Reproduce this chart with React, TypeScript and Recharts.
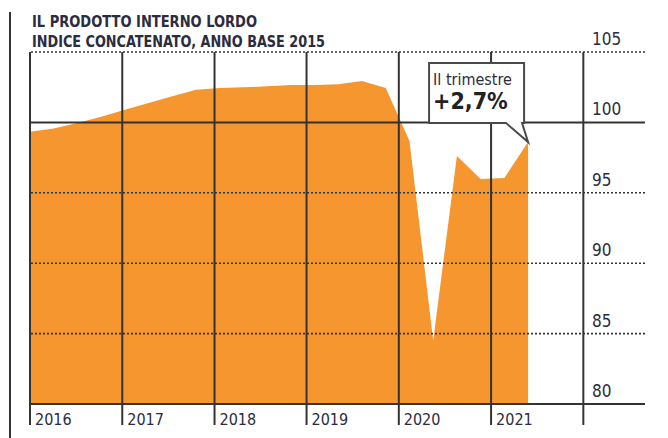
import React from "react";
import { AreaChart, Area, XAxis, YAxis, ReferenceLine, ReferenceDot } from "recharts";

// quarterly GDP index (2015 = 100), 2016 Q1 .. 2021 Q2
const quarters = [
  "I-16", "II-16", "III-16", "IV-16",
  "I-17", "II-17", "III-17", "IV-17",
  "I-18", "II-18", "III-18", "IV-18",
  "I-19", "II-19", "III-19", "IV-19",
  "I-20", "II-20", "III-20", "IV-20",
  "I-21", "II-21",
];
const gdpIndex = [
  99.34, 99.57, 99.96, 100.4,
  100.9, 101.37, 101.85, 102.32,
  102.44, 102.49, 102.56, 102.65,
  102.66, 102.71, 102.94, 102.44,
  98.68, 84.5, 97.61, 95.98,
  96.05, 98.6,
];

// year gridlines (in quarter-index units) and their labels
const yearTicks = [0, 3.89, 7.78, 11.66, 15.55, 19.44, 23.33];
const yearLabels = ["2016", "2017", "2018", "2019", "2020", "2021", ""];
const yTicks = [80, 85, 90, 95, 100, 105];
const dottedLevels = [85, 90, 95, 105];

const calloutTitle = "Il trimestre";
const calloutValue = "+2,7%";

const data = quarters.map((q, i) => ({ q, i, v: gdpIndex[i] }));
const last = data[data.length - 1];

const FONT = "'DejaVu Sans Condensed', 'DejaVu Sans', sans-serif";
const INK = "#2b2c40";
const LINE = "#333";

const XTick = ({ x, y, payload }: any) => {
  const idx = yearTicks.indexOf(payload.value);
  const label = idx >= 0 ? yearLabels[idx] : "";
  return (
    <text x={x + 5} y={y} fontSize={16} fill={INK} fontFamily={FONT} style={{ fontStretch: "condensed" }}>
      {label}
    </text>
  );
};

const YTick = ({ y, payload }: any) => (
  <text x={592} y={y - 7} fontSize={17} fill={INK} fontFamily={FONT} style={{ fontStretch: "condensed" }}>
    {payload.value}
  </text>
);

const Callout = ({ cx, cy }: any) => (
  <g>
    <path
      d={`M${cx - 99},${cy - 79} H${cx - 4} V${cy - 19} H${cx - 6} L${cx},${cy} L${cx - 22},${cy - 19} H${cx - 99} Z`}
      fill="#fff"
      stroke="#4a4a4a"
      strokeWidth={2}
    />
    <text x={cx - 95} y={cy - 57} fontSize={16} fill={INK} fontFamily={FONT} style={{ fontStretch: "condensed" }}>
      {calloutTitle}
    </text>
    <text x={cx - 95} y={cy - 33} fontSize={23} fontWeight="bold" fill="#222" fontFamily={FONT} style={{ fontStretch: "condensed" }}>
      {calloutValue}
    </text>
  </g>
);

export default function App() {
  return (
    <div style={{ position: "absolute", left: 0, top: 0, width: 668, height: 438, background: "#fff" }}>
      <svg width={668} height={438} style={{ position: "absolute", left: 0, top: 0 }}>
        <line x1={10} y1={12} x2={10} y2={438} stroke={LINE} strokeWidth={2} />
        <text x={32} y={27} fontSize={16} fontWeight="bold" fill={INK} fontFamily={FONT}
          textLength={225} lengthAdjust="spacingAndGlyphs">
          IL PRODOTTO INTERNO LORDO
        </text>
        <text x={32} y={47} fontSize={16} fontWeight="bold" fill={INK} fontFamily={FONT}
          textLength={293} lengthAdjust="spacingAndGlyphs">
          INDICE CONCATENATO, ANNO BASE 2015
        </text>
      </svg>
      <div style={{ position: "absolute", left: 0, top: 0 }}>
        <AreaChart width={668} height={438} data={data} margin={{ top: 52, right: 22, bottom: 4, left: 30 }}>
          <XAxis
            dataKey="i"
            type="number"
            domain={[0, 25.93]}
            ticks={yearTicks}
            interval={0}
            allowDataOverflow
            tick={<XTick />}
            tickSize={21}
            tickMargin={0}
            height={30}
            axisLine={{ stroke: LINE, strokeWidth: 2 }}
            tickLine={{ stroke: LINE, strokeWidth: 2 }}
          />
          <YAxis
            orientation="right"
            type="number"
            domain={[80, 105]}
            ticks={yTicks}
            interval={0}
            width={1}
            axisLine={false}
            tickLine={false}
            tick={<YTick />}
          />
          <Area
            type="linear"
            dataKey="v"
            baseValue={80}
            fill="#f6962f"
            fillOpacity={1}
            stroke="none"
            isAnimationActive={false}
          />
          {dottedLevels.map((lv) => (
            <ReferenceLine key={lv} y={lv} stroke={LINE} strokeWidth={1.6} strokeDasharray="2 2" />
          ))}
          <ReferenceLine y={100} stroke={LINE} strokeWidth={2} />
          {yearTicks.map((t) => (
            <ReferenceLine key={t} x={t} stroke={LINE} strokeWidth={2} />
          ))}
          <ReferenceDot x={last.i} y={last.v} r={0} shape={<Callout />} />
        </AreaChart>
      </div>
    </div>
  );
}
